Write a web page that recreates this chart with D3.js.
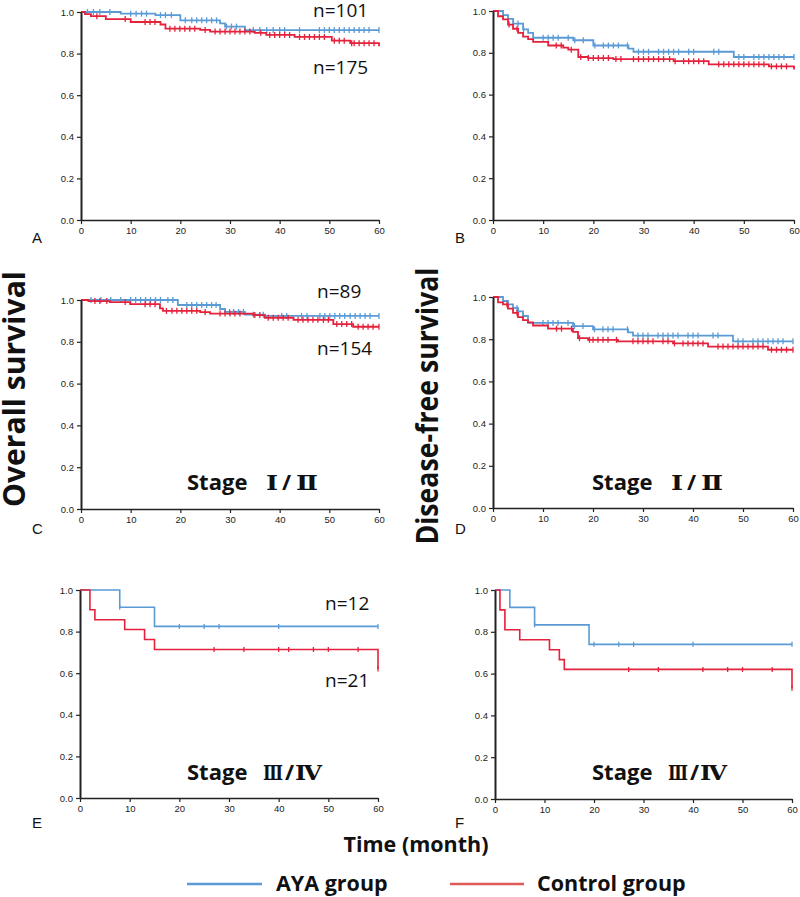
<!DOCTYPE html>
<html><head><meta charset="utf-8">
<script src="https://cdn.jsdelivr.net/npm/d3@7/dist/d3.min.js"></script>
<style>body{margin:0;background:#fff}svg{display:block}</style>
</head><body>
<svg id="chart" width="800" height="897"></svg>
<script>
// ---------- tick labels ----------
const xTicks = [0, 10, 20, 30, 40, 50, 60];
const yTicks = [0.0, 0.2, 0.4, 0.6, 0.8, 1.0];
const groups = ["AYA group", "Control group"];

// ---------- Panel A: overall survival, all stages ----------
const A_aya_t = [8, 15, 20, 28, 29, 33];
const A_aya_s = [0.992, 0.985, 0.96, 0.945, 0.93, 0.913];
const A_aya_c = [1.3, 2.5, 3.8, 5.8, 10, 11.1, 12.2, 13.2, 16, 17, 18.2, 21, 22.3, 23.3, 24.3, 25.3, 26.3, 27.3, 29.3, 30.3, 31.3, 34.7, 36, 37.4, 38.7, 40, 41, 44, 48, 49, 50, 51, 52, 53, 54, 55, 56, 57, 58, 60];
const A_ctl_t = [0.8, 2, 5, 10, 16, 17, 24, 26, 35, 37.3, 43, 50.5, 54.2, 60];
const A_ctl_s = [0.99, 0.98, 0.966, 0.952, 0.94, 0.92, 0.914, 0.906, 0.9, 0.89, 0.88, 0.862, 0.85, 0.835];
const A_ctl_c = [3.2, 8.9, 12.9, 13.9, 14.9, 17.9, 18.9, 19.9, 20.9, 21.9, 22.9, 25, 27, 28, 29, 30, 31, 32, 33, 34, 36.2, 38, 39, 40, 41, 42, 44, 45, 46, 47, 48, 49, 51, 52, 53, 54.5, 55, 56, 57, 58, 59];

// ---------- Panel B: disease-free survival, all stages ----------
const B_aya_t = [2, 3, 4, 6, 7, 8, 16, 20, 27, 28, 48];
const B_aya_s = [0.98, 0.962, 0.94, 0.912, 0.895, 0.872, 0.86, 0.835, 0.82, 0.805, 0.78];
const B_aya_c = [5, 6.1, 10, 11, 12, 13, 15, 16.3, 18, 20.3, 22, 23, 24, 25, 26.8, 29, 30, 31, 33, 34, 35, 36, 37, 39, 40, 44, 45, 49, 50, 52, 53, 54, 55, 56, 57, 58, 60];
const B_ctl_t = [1, 2, 3, 4, 5, 6, 7, 8, 11, 14, 15, 17, 19, 24, 36, 43, 55, 60];
const B_ctl_s = [0.975, 0.96, 0.935, 0.915, 0.895, 0.877, 0.865, 0.852, 0.835, 0.825, 0.815, 0.78, 0.775, 0.77, 0.76, 0.745, 0.735, 0.72];
const B_ctl_c = [3.2, 4.8, 12.6, 13.6, 15.6, 17.5, 19, 20, 21, 22, 23, 24.5, 25.5, 28, 29, 30, 31, 32, 33, 34, 35.2, 36.3, 38, 39, 40, 41, 42, 45, 46, 47, 48, 49, 50, 51, 52, 53, 54, 55.5, 56.5, 57.5, 58.5];

// ---------- Panel C: overall survival, stage I/II ----------
const C_aya_t = [19.5, 28, 29, 33, 37];
const C_aya_s = [0.976, 0.957, 0.943, 0.93, 0.924];
const C_aya_c = [2, 4, 6, 8, 10, 11, 12, 13, 14, 15, 16, 17.5, 18.5, 21.3, 22.3, 23.3, 24.3, 25.3, 26.3, 27.2, 29.9, 30.7, 31.7, 32.7, 34.7, 36.7, 40.4, 41.4, 44.4, 45.5, 48.1, 49.1, 50.1, 51.1, 52.1, 53.1, 54.2, 55.2, 56.2, 57.2, 58.2, 60];
const C_ctl_t = [1.5, 5.8, 9.9, 15.9, 16.5, 24, 26, 34.7, 37, 42.8, 50.8, 54.8];
const C_ctl_s = [0.995, 0.99, 0.98, 0.96, 0.948, 0.942, 0.935, 0.928, 0.915, 0.905, 0.885, 0.872];
const C_ctl_c = [2.8, 3.8, 5.2, 8.9, 12.9, 13.9, 14.9, 17.2, 18.3, 19.3, 20.3, 21.3, 22.3, 23.3, 25, 28, 29, 30, 31, 32, 35, 36, 37.7, 38.7, 39.7, 40.7, 41.7, 43.7, 44.7, 45.7, 46.7, 47.7, 48.8, 49.8, 51.5, 52.5, 53.5, 54.5, 55.8, 56.8, 57.8, 58.8, 60];

// ---------- Panel D: disease-free survival, stage I/II ----------
const D_aya_t = [2, 3, 4, 5, 6, 7, 16, 20, 27, 28, 48];
const D_aya_s = [0.981, 0.965, 0.948, 0.932, 0.91, 0.877, 0.862, 0.847, 0.832, 0.817, 0.79];
const D_aya_c = [4.8, 6, 10, 11, 12, 13, 15, 16.3, 18, 20.3, 22, 23, 24, 26.9, 29, 30, 31, 33, 34, 35, 36, 37, 39, 40, 41, 44, 45, 49, 50, 52, 53, 54, 55, 56, 57, 58, 60];
const D_ctl_t = [1, 2, 3, 4, 5, 6, 7, 8, 11, 16, 17, 19, 25, 36, 43, 55];
const D_ctl_s = [0.975, 0.965, 0.945, 0.925, 0.905, 0.89, 0.88, 0.865, 0.85, 0.835, 0.805, 0.797, 0.79, 0.78, 0.765, 0.75];
const D_ctl_c = [2.8, 4.8, 12.7, 13.7, 15.7, 17.3, 19.3, 20, 21, 22, 23, 24.7, 28, 29, 30, 31, 32, 34, 35, 36.3, 38, 39, 40, 41, 42, 45, 46, 47, 48, 49, 50, 51, 52, 53, 54, 55.7, 56.7, 57.7, 58.7, 60];

// ---------- Panel E: overall survival, stage III/IV ----------
const E_aya_t = [8, 15];
const E_aya_s = [0.917, 0.825];
const E_aya_c = [8, 20, 25, 28, 40, 60];
const E_ctl_t = [2, 3, 9, 13, 15, 60];
const E_ctl_s = [0.905, 0.857, 0.81, 0.762, 0.714, 0.62];
const E_ctl_c = [27, 33, 40, 42, 47, 50, 56, 60];

// ---------- Panel F: disease-free survival, stage III/IV ----------
const F_aya_t = [3, 8, 19];
const F_aya_s = [0.917, 0.833, 0.74];
const F_aya_c = [8, 20, 25, 28, 40, 60];
const F_ctl_t = [1, 2, 5, 11, 13, 14, 60];
const F_ctl_s = [0.905, 0.81, 0.762, 0.714, 0.667, 0.62, 0.53];
const F_ctl_c = [27, 33, 42, 47, 50, 56, 60];

// ---------- annotation text ----------
const panelLetters = ["A", "B", "C", "D", "E", "F"];
const nLabelsA = ["n=101", "n=175"];
const nLabelsC = ["n=89", "n=154"];
const nLabelsE = ["n=12", "n=21"];
const stageWord = "Stage";
const stageParts = [["\u2160", "/", "\u2161"], ["\u2162", "/", "\u2163"]];

// ---------- styling / layout ----------
const BLUE = "#5b9bd5", RED = "#e4223c", LEG_RED = "#e05a5a";
const svg = d3.select("#chart");
const layout = [
  {L: 81, R: 379, T: 12, B: 220, big: true,  aya: [A_aya_t, A_aya_s, A_aya_c], ctl: [A_ctl_t, A_ctl_s, A_ctl_c], letter: [32, 243]},
  {L: 493, R: 794, T: 11, B: 220, big: true,  aya: [B_aya_t, B_aya_s, B_aya_c], ctl: [B_ctl_t, B_ctl_s, B_ctl_c], letter: [455, 243]},
  {L: 81, R: 379, T: 300, B: 509, big: true,  aya: [C_aya_t, C_aya_s, C_aya_c], ctl: [C_ctl_t, C_ctl_s, C_ctl_c], letter: [32, 534]},
  {L: 493, R: 793, T: 297, B: 508, big: true,  aya: [D_aya_t, D_aya_s, D_aya_c], ctl: [D_ctl_t, D_ctl_s, D_ctl_c], letter: [455, 534]},
  {L: 80, R: 378, T: 590, B: 798, big: false, aya: [E_aya_t, E_aya_s, E_aya_c], ctl: [E_ctl_t, E_ctl_s, E_ctl_c], letter: [32, 828]},
  {L: 495, R: 792, T: 590, B: 799, big: false, aya: [F_aya_t, F_aya_s, F_aya_c], ctl: [F_ctl_t, F_ctl_s, F_ctl_c], letter: [455, 828]}
];

function survAt(ts, ss, t) {
  let v = 1;
  for (let i = 0; i < ts.length; i++) if (ts[i] <= t + 1e-9) v = ss[i];
  return v;
}

layout.forEach((p, i) => {
  const x = d3.scaleLinear().domain([0, 60]).range([0, p.R - p.L]);
  const y = d3.scaleLinear().domain([0, 1]).range([p.B - p.T, 0]);
  const g = svg.append("g").attr("transform", `translate(${p.L},${p.T})`);

  const line = d3.line().x(d => x(d[0])).y(d => y(d[1])).curve(d3.curveStepAfter);
  [[p.aya, BLUE], [p.ctl, RED]].forEach(([ser, col]) => {
    const [ts, ss, cs] = ser;
    const pts = [[0, 1]].concat(ts.map((t, k) => [t, ss[k]]));
    if (pts[pts.length - 1][0] < 60) pts.push([60, pts[pts.length - 1][1]]);
    g.append("path").attr("d", line(pts)).attr("fill", "none")
      .attr("stroke", col).attr("stroke-width", p.big ? 1.8 : 1.6);
    const h = p.big ? 3 : 2.5;
    g.selectAll(null).data(cs).enter().append("line")
      .attr("x1", d => x(d)).attr("x2", d => x(d))
      .attr("y1", d => y(survAt(ts, ss, d)) - h).attr("y2", d => y(survAt(ts, ss, d)) + h)
      .attr("stroke", col).attr("stroke-width", 1.3);
  });

  const xa = g.append("g").attr("transform", `translate(0,${p.B - p.T})`)
    .call(d3.axisBottom(x).tickValues(xTicks).tickSize(4).tickSizeOuter(0).tickPadding(3));
  const ya = g.append("g")
    .call(d3.axisLeft(y).tickValues(yTicks).tickFormat(d3.format(".1f")).tickSize(4).tickSizeOuter(0).tickPadding(3));
  [xa, ya].forEach(a => {
    a.selectAll("text").attr("font-family", "Liberation Sans, Arial, sans-serif").attr("font-size", 9.5).attr("fill", "#222");
    a.selectAll("line").attr("stroke", "#222").attr("stroke-width", 1.2);
    a.select(".domain").attr("stroke", "#222").attr("stroke-width", 1.5);
  });
  ya.select(".domain").attr("stroke-width", 2);

  svg.append("text").attr("x", p.letter[0]).attr("y", p.letter[1])
    .attr("font-family", "Liberation Sans, Arial, sans-serif").attr("font-size", 15).attr("fill", "#111")
    .text(panelLetters[i]);
});

const nFont = "Open Sans, Noto Sans, sans-serif";
function addText(txt, x, y, size, weight, anchor) {
  return svg.append("text").attr("x", x).attr("y", y).attr("font-family", nFont)
    .attr("font-size", size).attr("font-weight", weight).attr("text-anchor", anchor || "start")
    .attr("fill", "#111").text(txt);
}
addText(nLabelsA[0], 313, 17, 19, 400);
addText(nLabelsA[1], 313, 74, 19, 400);
addText(nLabelsC[0], 317, 298, 19, 400);
addText(nLabelsC[1], 317, 355, 19, 400);
addText(nLabelsE[0], 325, 610, 19, 400);
addText(nLabelsE[1], 325, 687, 19, 400);

// stage labels: word in sans, Roman numerals in a serif face (bars/serifs as in the figure)
const numFont = "DejaVu Serif, Liberation Serif, serif";
function stage(k, x, y) {
  addText(stageWord, x, y, 22, 700);
  const offs = k === 0 ? [79, 95, 109] : [76, 98, 108];
  const lens = k === 0 ? [12, null, 22] : [20, null, 27];
  stageParts[k].forEach((s, j) => {
    const t = svg.append("text").attr("x", x + offs[j]).attr("y", y)
      .attr("font-family", j === 1 ? nFont : numFont).attr("font-weight", 700)
      .attr("font-size", j === 1 ? 22 : 21).attr("fill", "#111").text(s);
    if (lens[j]) t.attr("textLength", lens[j]).attr("lengthAdjust", "spacingAndGlyphs");
  });
}
stage(0, 187, 490);
stage(0, 592, 490);
stage(1, 187, 780);
stage(1, 592, 780);

// y titles
svg.append("text").attr("transform", "translate(25,389) rotate(-90)")
  .attr("text-anchor", "middle").attr("font-family", nFont).attr("font-weight", 700)
  .attr("font-size", 30).attr("textLength", 236).attr("lengthAdjust", "spacingAndGlyphs")
  .attr("fill", "#111").text("Overall survival");
svg.append("text").attr("transform", "translate(438,406) rotate(-90)")
  .attr("text-anchor", "middle").attr("font-family", nFont).attr("font-weight", 700)
  .attr("font-size", 30).attr("textLength", 277).attr("lengthAdjust", "spacingAndGlyphs")
  .attr("fill", "#111").text("Disease-free survival");

// x title
addText("Time (month)", 416, 852, 21.5, 700, "middle");

// legend
const legend = [[groups[0], BLUE, 187, 262, 276], [groups[1], LEG_RED, 450, 524, 537]];
legend.forEach(([lab, col, x1, x2, tx]) => {
  svg.append("line").attr("x1", x1).attr("x2", x2).attr("y1", 884).attr("y2", 884)
    .attr("stroke", col).attr("stroke-width", 2.5);
  addText(lab, tx, 891, 21.5, 700);
});
</script>
</body></html>
